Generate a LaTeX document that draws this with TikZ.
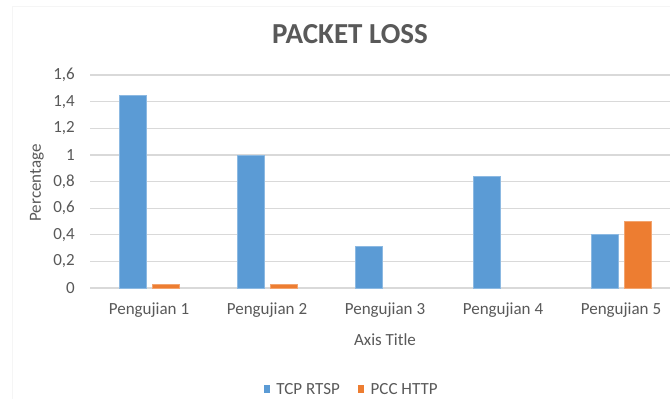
\documentclass[tikz,border=0pt]{standalone}
\usepackage{fontspec}
\setmainfont{Carlito}
\usetikzlibrary{positioning}
\definecolor{tcpblue}{HTML}{5B9BD5}
\definecolor{pccorange}{HTML}{ED7D31}
\definecolor{gridgray}{HTML}{D9D9D9}
\definecolor{textgray}{HTML}{595959}
\begin{document}
\begin{tikzpicture}[x=1pt, y=-1pt, grid/.style = {draw=gridgray, line width=1.2pt}, lbl/.style = {text=textgray, font=\fontsize{17}{19}\selectfont, inner sep=0pt}, tcp/.style = {fill=tcpblue, draw=tcpblue!70!white, line width=0.6pt}, pcc/.style = {fill=pccorange, draw=pccorange!70!white, line width=0.6pt}]
    \useasboundingbox[fill=white] (0,0) rectangle (670,399);
    \draw[gray!8, line width=1pt] (12,399) -- (12,6) -- (670,6);
    \node[text=textgray, font=\fontsize{29}{32}\selectfont\bfseries] (title) at (350,34) {PACKET LOSS};

    % gridlines and y labels
    \foreach \v/\t in {0/0, 0.2/{0,2}, 0.4/{0,4}, 0.6/{0,6}, 0.8/{0,8}, 1/1, 1.2/{1,2}, 1.4/{1,4}, 1.6/{1,6}} {
        \draw[grid] (90,288-133.1*\v) -- (670,288-133.1*\v);
        \node[lbl, anchor=east] at (75,288-133.1*\v) {\t};
    }

    % bars
    \foreach \i/\a in {1/1.45, 2/1.0, 3/0.315, 4/0.84, 5/0.4} {
        \draw[tcp] (31+118*\i-30,288) rectangle (31+118*\i-3,288-133.1*\a);
        \node[lbl] (cat\i) at (31+118*\i,310) {Pengujian \i};
    }
    \foreach \i/\b in {1/0.03, 2/0.03, 5/0.5} {
        \draw[pcc] (31+118*\i+3,288) rectangle (31+118*\i+30,288-133.1*\b);
    }

    \node[lbl, rotate=90] (ytitle) at (37,183) {Percentage};
    \node[lbl] (xtitle) at (385,340) {Axis Title};

    % legend
    \node[fill=tcpblue, minimum width=6pt, minimum height=8pt, inner sep=0pt] (keytcp) at (267,389) {};
    \node[lbl, right=6pt of keytcp] (txttcp) {TCP RTSP};
    \node[fill=pccorange, minimum width=6pt, minimum height=8pt, inner sep=0pt, right=18pt of txttcp] (keypcc) {};
    \node[lbl, right=6pt of keypcc] (txtpcc) {PCC HTTP};
\end{tikzpicture}
\end{document}
